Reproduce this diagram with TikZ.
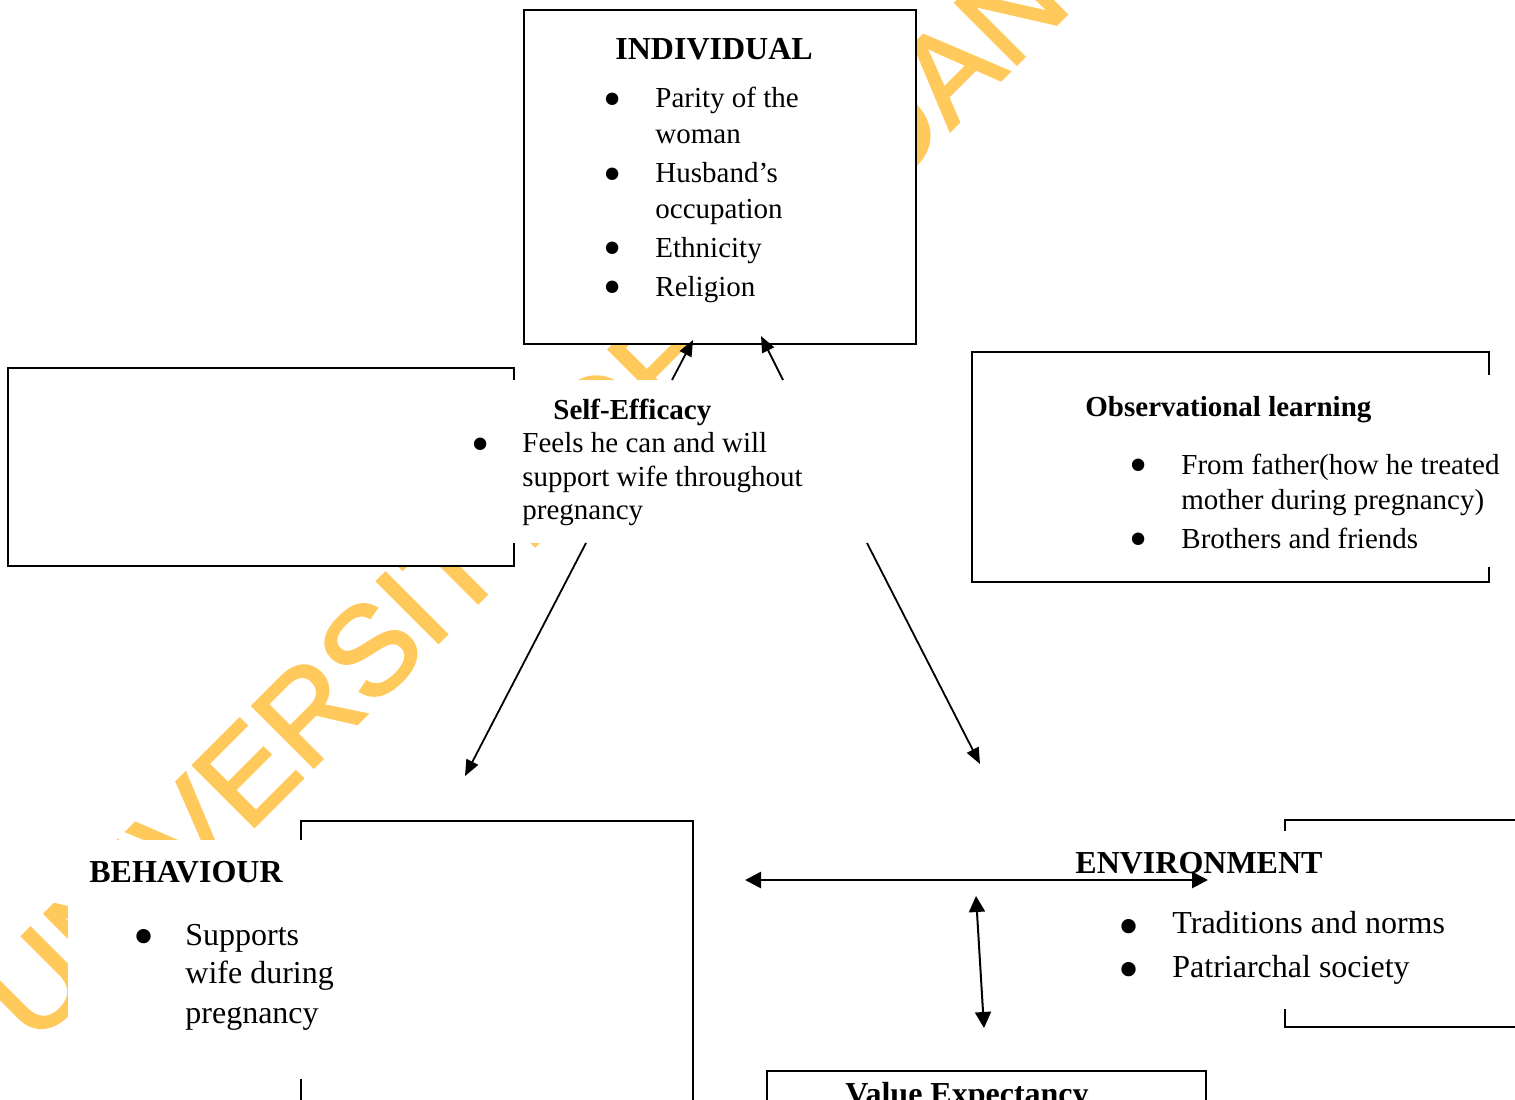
\documentclass[tikz,border=0pt]{standalone}
\usepackage{fontspec}
\setmainfont{Liberation Serif}
\newfontfamily\wmfont[FakeBold=2]{Liberation Sans}
\usetikzlibrary{arrows.meta}
\definecolor{wmcol}{RGB}{255,201,92}
\begin{document}
\begin{tikzpicture}[x=0.5pt,y=-0.5pt,
  box/.style={draw=black, line width=1pt, fill=white},
  blank/.style={fill=white, draw=none},
  body/.style={anchor=base west, inner sep=0pt, font=\fontsize{14.5}{17}\selectfont},
  bodyL/.style={anchor=base west, inner sep=0pt, font=\fontsize{16}{19}\selectfont},
  head/.style={anchor=base west, inner sep=0pt, font=\fontsize{14.5}{17}\selectfont\bfseries},
  headL/.style={anchor=base west, inner sep=0pt, font=\fontsize{16}{19}\selectfont\bfseries},
  bul/.style={inner sep=0pt, yshift=-3pt, font=\fontsize{26}{26}\selectfont},
  bulL/.style={inner sep=0pt, yshift=-3.5pt, font=\fontsize{30}{30}\selectfont},
  wmark/.style={anchor=base west, rotate=45, inner sep=0pt, text=wmcol, font=\wmfont\fontsize{63}{63}\selectfont},
  arr/.style={line width=0.9pt, -{Triangle[length=8pt,width=6.5pt]}},
  darr/.style={line width=1.35pt, {Triangle[length=8pt,width=8pt]}-{Triangle[length=8pt,width=8pt]}},
  varr/.style={line width=1pt, {Triangle[length=8pt,width=8pt]}-{Triangle[length=8pt,width=8pt]}},
]
\useasboundingbox (0,0) rectangle (1515,1099);
\clip (0,0) rectangle (1515,1099);
\fill[white] (0,0) rectangle (1515,1099);

% watermark
\node[wmark] (wm) at (34,1047) {UNIVERSITY OF IBADAN};

% boxes
\draw[box] (524,10) rectangle (916,344);
\draw[box] (8,368) rectangle (514,566);
\draw[box] (972,352) rectangle (1489,582);
\draw[box] (301,821) rectangle (693,1130);
\draw[box] (1285,820) rectangle (1540,1027);
\draw[box] (767,1071) rectangle (1206,1130);

% white text areas
\fill[white] (470,380) rectangle (872,543);
\fill[white] (1000,375) rectangle (1515,567);
\fill[white] (68,840) rectangle (420,1079);
\fill[white] (1060,831) rectangle (1515,1009);
\fill[white] (790,1073) rectangle (1171,1099);

% INDIVIDUAL
\node[headL] (indT) at (615,59) {INDIVIDUAL};
\node[bul] (ib1) at (613,99) {\textbullet};
\node[bul] (ib2) at (613,174) {\textbullet};
\node[bul] (ib3) at (613,248) {\textbullet};
\node[bul] (ib4) at (613,287) {\textbullet};
\node[body] (i1) at (655,107) {Parity of the};
\node[body] (i2) at (655,143) {woman};
\node[body] (i3) at (655,182) {Husband’s};
\node[body] (i4) at (655,218) {occupation};
\node[body] (i5) at (655,257) {Ethnicity};
\node[body] (i6) at (655,296) {Religion};

% SELF-EFFICACY
\node[head] (seT) at (553,419) {Self-Efficacy};
\node[bul] (sb1) at (481,444) {\textbullet};
\node[body] (s1) at (522,452) {Feels he can and will};
\node[body] (s2) at (522,486) {support wife throughout};
\node[body] (s3) at (522,519) {pregnancy};

% OBSERVATIONAL LEARNING
\node[head] (obT) at (1085,416) {Observational learning};
\node[bul] (ob1) at (1139,465) {\textbullet};
\node[bul] (ob2) at (1139,539) {\textbullet};
\node[body] (o1) at (1181,474) {From father(how he treated};
\node[body] (o2) at (1181,509) {mother during pregnancy)};
\node[body] (o3) at (1181,548) {Brothers and friends};

% BEHAVIOUR
\node[headL] (beT) at (89,882) {BEHAVIOUR};
\node[bulL] (bb1) at (144,936) {\textbullet};
\node[bodyL] (b1) at (185,945) {Supports};
\node[bodyL] (b2) at (185,983) {wife during};
\node[bodyL] (b3) at (185,1023) {pregnancy};

% ENVIRONMENT
\node[headL] (enT) at (1075,873) {ENVIRONMENT};
\node[bulL] (eb1) at (1129,926) {\textbullet};
\node[bulL] (eb2) at (1129,969) {\textbullet};
\node[bodyL] (e1) at (1172,933) {Traditions and norms};
\node[bodyL] (e2) at (1172,977) {Patriarchal society};

% VALUE EXPECTANCY
\node[headL] (vaT) at (845,1104) {Value Expectancy};

% connector ends
\coordinate (se1) at (672,380); \coordinate (ind1) at (693,340);
\coordinate (se2) at (783,380); \coordinate (ind2) at (761,336);
\coordinate (se3) at (586,543); \coordinate (beh1) at (465,776);
\coordinate (se4) at (867,543); \coordinate (env1) at (980,764);
\coordinate (hl) at (745,880);  \coordinate (hr) at (1208,880);
\coordinate (vt) at (976,896);  \coordinate (vb) at (984,1028);

% connectors
\draw[arr] (se1) -- (ind1);
\draw[arr] (se2) -- (ind2);
\draw[arr] (se3) -- (beh1);
\draw[arr] (se4) -- (env1);
\draw[darr] (hl) -- (hr);
\draw[varr] (vt) -- (vb);
\end{tikzpicture}
\end{document}
